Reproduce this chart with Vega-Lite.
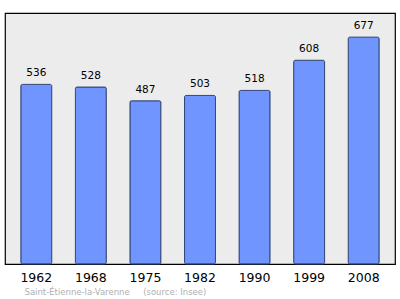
{
  "$schema": "https://vega.github.io/schema/vega-lite/v6.json",
  "width": 390,
  "height": 251,
  "autosize": "none",
  "padding": {"left": 5, "top": 13, "right": 5, "bottom": 35},
  "background": "white",
  "config": {
    "view": {"fill": "#ececec", "stroke": "#000000", "strokeWidth": 1.2},
    "font": "DejaVu Sans"
  },
  "data": {
    "values": [
      {"year": "1962", "pop": 536},
      {"year": "1968", "pop": 528},
      {"year": "1975", "pop": 487},
      {"year": "1982", "pop": 503},
      {"year": "1990", "pop": 518},
      {"year": "1999", "pop": 608},
      {"year": "2008", "pop": 677}
    ]
  },
  "encoding": {
    "x": {
      "field": "year",
      "type": "nominal",
      "sort": null,
      "scale": {"paddingInner": 0.433, "paddingOuter": 0.29},
      "axis": {
        "labelAngle": 0,
        "labelFontSize": 12.5,
        "labelColor": "#000000",
        "labelPadding": 7,
        "ticks": false,
        "domain": false,
        "title": "Saint-Étienne-la-Varenne\u00a0\u00a0\u00a0\u00a0\u00a0(source: Insee)",
        "titleFontSize": 8.5,
        "titleFontWeight": "normal",
        "titleColor": "#b0b0b0",
        "titleAnchor": "start",
        "titleAlign": "left",
        "titleX": 19,
        "titlePadding": 4
      }
    },
    "y": {
      "field": "pop",
      "type": "quantitative",
      "scale": {"domain": [0, 749], "nice": false},
      "axis": null
    }
  },
  "layer": [
    {
      "mark": {"type": "bar", "fill": "#7095ff", "stroke": "#33477a", "strokeWidth": 1, "cornerRadius": 1.5}
    },
    {
      "mark": {"type": "text", "baseline": "alphabetic", "dy": -8, "fontSize": 10.5, "color": "#000000"},
      "encoding": {"text": {"field": "pop", "type": "quantitative"}}
    }
  ]
}
